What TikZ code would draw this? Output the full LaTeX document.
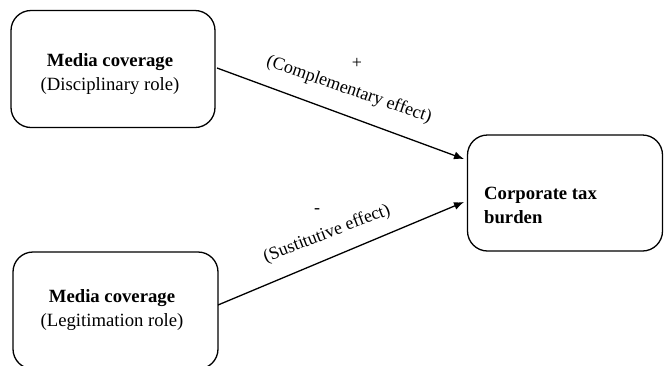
\documentclass[tikz,border=0pt]{standalone}
\usepackage{fontspec}
\setmainfont{Liberation Serif}
\usetikzlibrary{arrows.meta}
\begin{document}
\begin{tikzpicture}[x=1pt,y=-1pt,
  box/.style={draw,line width=1.3pt,rounded corners=20pt,minimum width=#1,inner sep=0pt},
  txt/.style={font=\fontsize{18.7}{24}\selectfont,inner sep=0pt},
  lbl/.style={font=\fontsize{18}{22}\selectfont,inner sep=0pt},
  arr/.style={line width=1.3pt,-{Latex[length=10pt,width=8pt]}}]
\useasboundingbox (0,0) rectangle (664,365);
\begin{scope}
\clip (0,0) rectangle (664,365);
\node[box=204pt,minimum height=117pt] (b1) at (113,69) {};
\node[box=205pt,minimum height=117pt] (b2) at (115.5,310.5) {};
\node[box=195pt,minimum height=116pt] (b3) at (565,193) {};
\end{scope}
\node[txt,align=center] (t1) at (110,74) {\textbf{Media coverage}\\(Disciplinary role)};
\node[txt,align=center] (t2) at (112,310) {\textbf{Media coverage}\\(Legitimation role)};
\node[txt,align=left,anchor=west] (t3) at (484,205) {\textbf{Corporate tax}\\\textbf{burden}};
\coordinate (s1) at (217,68);
\coordinate (e1) at (464,159);
\coordinate (s2) at (218,305);
\coordinate (e2) at (464,202);
\draw[arr] (s1) -- (e1);
\draw[arr] (s2) -- (e2);
\node[lbl,rotate=-19] (l1) at (349,90) {(Complementary effect)};
\node[lbl] (p1) at (357,63) {+};
\node[lbl,rotate=21] (l2) at (327,234) {(Sustitutive effect)};
\node[lbl] (m2) at (317,211) {-};
\end{tikzpicture}
\end{document}
